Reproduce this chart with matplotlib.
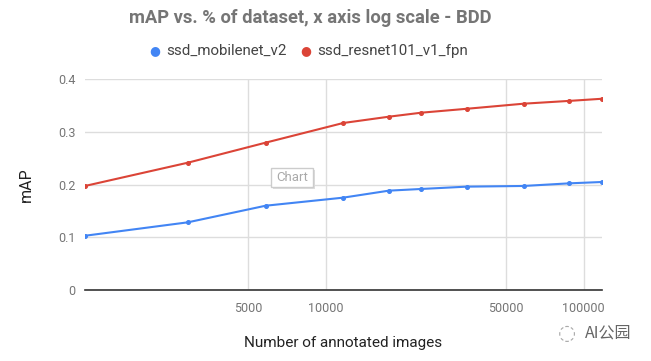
import matplotlib
matplotlib.use("Agg")
import matplotlib.pyplot as plt
from matplotlib.ticker import FixedLocator, NullLocator, FixedFormatter
from matplotlib.patches import Rectangle

# Data
num_images = [1170, 2930, 5860, 11700, 17600, 23500, 35200, 58600, 88000, 117300]
mobilenet = [0.103, 0.1285, 0.160, 0.1753, 0.1886, 0.1918, 0.1962, 0.1975, 0.2025, 0.205]
resnet = [0.1975, 0.2417, 0.2797, 0.317, 0.329, 0.3366, 0.344, 0.3537, 0.359, 0.363]
x_ticks = [5000, 10000, 50000, 100000]
x_tick_labels = ["5000", "10000", "50000", "100000"]
y_ticks = [0, 0.1, 0.2, 0.3, 0.4]
y_tick_labels = ["0", "0.1", "0.2", "0.3", "0.4"]

plt.rcParams['font.family'] = ['Roboto', 'DejaVu Sans']

W, H = 651, 361
fig = plt.figure(figsize=(W / 100, H / 100), dpi=100)
fig.patch.set_facecolor("white")
left, right, top, bottom = 85, 601.5, 79.3, 290
ax = fig.add_axes([left / W, (H - bottom) / H, (right - left) / W, (bottom - top) / H])

blue = "#4285F4"
red = "#DB4437"
ax.plot(num_images, mobilenet, color=blue, lw=1.5, marker="o", ms=2.6, zorder=3)
ax.plot(num_images, resnet, color=red, lw=1.5, marker="o", ms=2.6, zorder=3)

ax.set_xscale("log")
ax.set_xlim(num_images[0], num_images[-1])
ax.set_ylim(0, 0.4)
ax.xaxis.set_major_locator(FixedLocator(x_ticks))
ax.xaxis.set_major_formatter(FixedFormatter(x_tick_labels))
ax.xaxis.set_minor_locator(NullLocator())
ax.set_yticks(y_ticks)
ax.set_yticklabels(y_tick_labels)

ax.grid(True, color="#dddddd", lw=1)
ax.set_axisbelow(True)
for s in ["top", "right", "left"]:
    ax.spines[s].set_visible(False)
ax.spines["bottom"].set_color("#333333")
ax.spines["bottom"].set_linewidth(1.2)
ax.spines["bottom"].set_zorder(4)
ax.tick_params(axis="both", length=0, colors="#757575", labelsize=9)
ax.tick_params(axis="x", pad=9)
ax.tick_params(axis="y", pad=7)

ax.set_xlabel("Number of annotated images", fontsize=11, color="#222222", labelpad=15)
ax.set_ylabel("mAP", fontsize=11.5, color="#222222", labelpad=17)

fig.text(310 / W, 1 - 18 / H, "mAP vs. % of dataset, x axis log scale - BDD",
         ha="center", va="center", fontsize=13.2, fontweight="bold", color="#757575")

# Legend
ly = 1 - 51 / H
fig.text(155 / W, ly, "\u25CF", ha="center", va="center", fontsize=9, color=blue)
fig.text(166 / W, ly, "ssd_mobilenet_v2", ha="left", va="center", fontsize=10.9, color="#444444")
fig.text(306 / W, ly, "\u25CF", ha="center", va="center", fontsize=9, color=red)
fig.text(317 / W, ly, "ssd_resnet101_v1_fpn", ha="left", va="center", fontsize=10.9, color="#444444")

# Tooltip box with shadow
bx0, bx1, by0, by1 = 271, 313, 168, 187
fig.patches.append(Rectangle(((bx0 + 2) / W, 1 - (by1 + 2) / H), (bx1 - bx0) / W, (by1 - by0) / H,
                             transform=fig.transFigure, fc="#dddddd", ec="none", zorder=8))
fig.patches.append(Rectangle((bx0 / W, 1 - by1 / H), (bx1 - bx0) / W, (by1 - by0) / H,
                             transform=fig.transFigure, fc="white", ec="#cccccc", lw=1, zorder=9))
fig.text((bx0 + bx1) / 2 / W, 1 - (by0 + by1) / 2 / H, "Chart", ha="center", va="center",
         fontsize=9.5, color="#aaaaaa", zorder=10)

# Watermark
fig.text(585 / W, 1 - 333 / H, "AI公园", ha="left", va="center", fontsize=11.5, color="#666666",
         family=["Noto Sans CJK SC", "DejaVu Sans"])
fig.text(567 / W, 1 - 333 / H, "\u25CC", ha="center", va="center", fontsize=15, color="#aaaaaa",
         family=["DejaVu Sans"])

fig.savefig("out.png", dpi=100)
